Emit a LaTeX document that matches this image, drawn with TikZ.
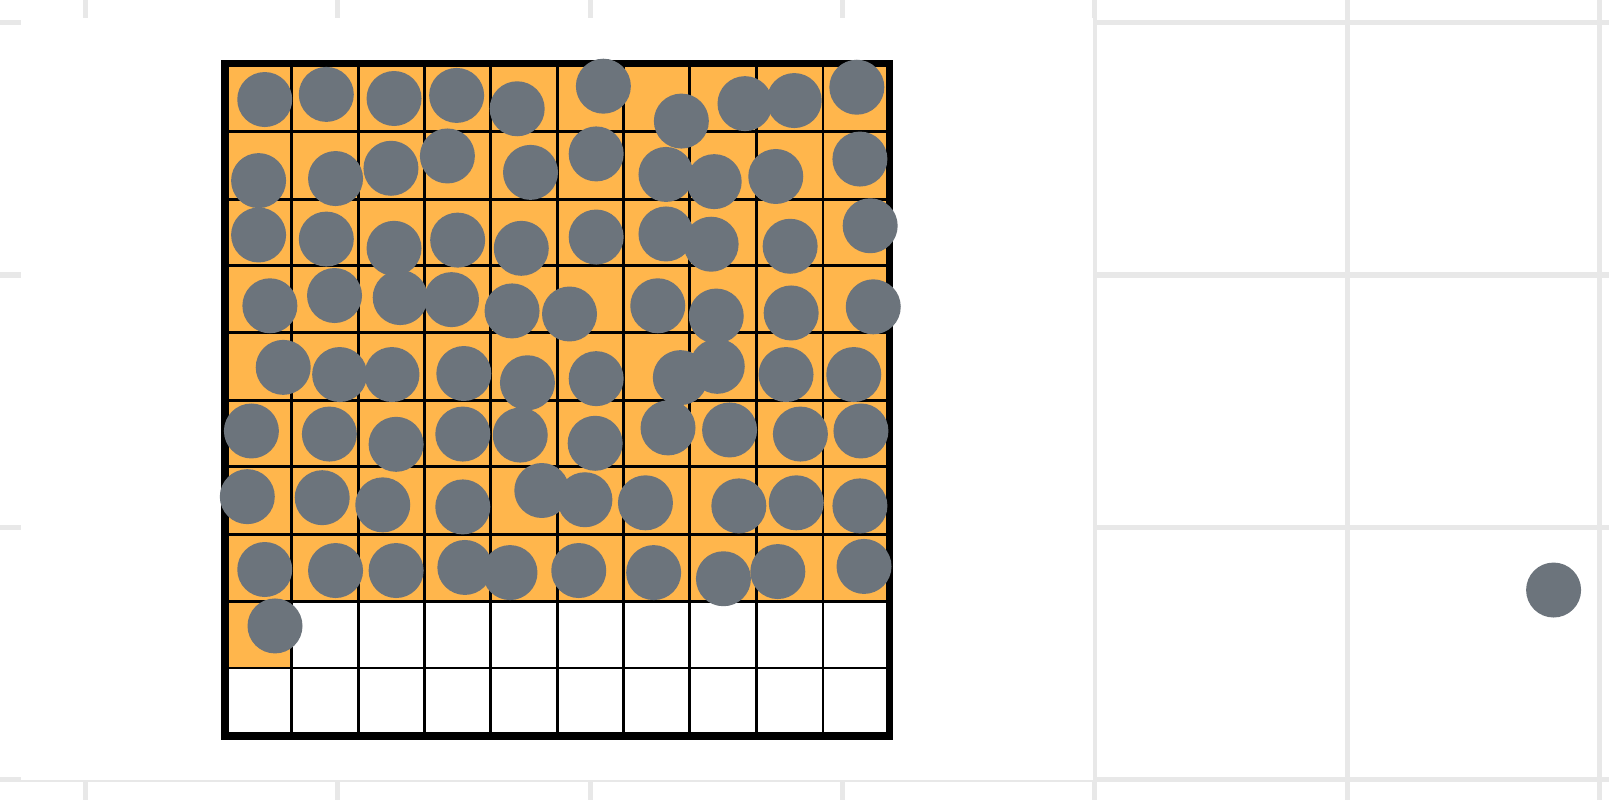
\documentclass[tikz,border=0pt]{standalone}
\usepackage{xcolor}
\usepackage{tikz}
\definecolor{ballgray}{RGB}{108, 116, 124}
\definecolor{cellorange}{RGB}{255, 182, 76}
\definecolor{backgray}{RGB}{232, 232, 232}
\tikzset{
  ball/.style={fill=ballgray},
  backline/.style={draw=backgray, line width=2.8pt},
  cellline/.style={draw=black, line width=1.6pt},
  frameline/.style={draw=black, line width=4.2pt}
}

\begin{document}
\begin{tikzpicture}[x=0.02cm, y=-0.02cm]
    \useasboundingbox (0,0) rectangle (1568,780);

    % Background grid
    \draw[backline] (83,0) -- (83,780);
    \draw[backline] (329,0) -- (329,780);
    \draw[backline] (575,0) -- (575,780);
    \draw[backline] (821,0) -- (821,780);
    \draw[backline] (1067,0) -- (1067,780);
    \draw[backline] (1313,0) -- (1313,780);
    \draw[backline] (1559,0) -- (1559,780);
    \draw[backline] (0,22) -- (1568,22);
    \draw[backline] (0,268) -- (1568,268);
    \draw[backline] (0,514) -- (1568,514);
    \draw[backline] (0,760) -- (1568,760);

    % White panel
    \fill[white] (20,18) rectangle (1065,760);

    % Filled cells
    \fill[cellorange] (219,62) rectangle (867,586);
    \fill[cellorange] (219,586) rectangle (284,651);

    % Cell lines
    \draw[cellline] (284,62) -- (284,717);
    \draw[cellline] (349,62) -- (349,717);
    \draw[cellline] (414,62) -- (414,717);
    \draw[cellline] (478,62) -- (478,717);
    \draw[cellline] (543,62) -- (543,717);
    \draw[cellline] (608,62) -- (608,717);
    \draw[cellline] (672,62) -- (672,717);
    \draw[cellline] (737,62) -- (737,717);
    \draw[cellline] (802,62) -- (802,717);
    \draw[cellline] (219,128) -- (867,128);
    \draw[cellline] (219,194) -- (867,194);
    \draw[cellline] (219,259) -- (867,259);
    \draw[cellline] (219,324) -- (867,324);
    \draw[cellline] (219,390) -- (867,390);
    \draw[cellline] (219,455) -- (867,455);
    \draw[cellline] (219,521) -- (867,521);
    \draw[cellline] (219,586) -- (867,586);
    \draw[cellline] (219,651) -- (867,651);
    \draw[frameline] (219,62) rectangle (867,717);

    % Balls, row 1
    \fill[ball] (258,97) circle (0.536cm);
    \fill[ball] (318,92) circle (0.536cm);
    \fill[ball] (384,96) circle (0.536cm);
    \fill[ball] (445,93) circle (0.536cm);
    \fill[ball] (504,106) circle (0.536cm);
    \fill[ball] (588,84) circle (0.536cm);
    \fill[ball] (664,118) circle (0.536cm);
    \fill[ball] (726,101) circle (0.536cm);
    \fill[ball] (774,98) circle (0.536cm);
    \fill[ball] (835,85) circle (0.536cm);

    % Balls, row 2
    \fill[ball] (252,176) circle (0.536cm);
    \fill[ball] (327,174) circle (0.536cm);
    \fill[ball] (381,164) circle (0.536cm);
    \fill[ball] (436,152) circle (0.536cm);
    \fill[ball] (517,168) circle (0.536cm);
    \fill[ball] (581,150) circle (0.536cm);
    \fill[ball] (649,170) circle (0.536cm);
    \fill[ball] (696,177) circle (0.536cm);
    \fill[ball] (756,172) circle (0.536cm);
    \fill[ball] (838,155) circle (0.536cm);

    % Balls, row 3
    \fill[ball] (252,229) circle (0.536cm);
    \fill[ball] (318,233) circle (0.536cm);
    \fill[ball] (384,242) circle (0.536cm);
    \fill[ball] (446,234) circle (0.536cm);
    \fill[ball] (508,242) circle (0.536cm);
    \fill[ball] (581,231) circle (0.536cm);
    \fill[ball] (649,228) circle (0.536cm);
    \fill[ball] (693,238) circle (0.536cm);
    \fill[ball] (770,240) circle (0.536cm);
    \fill[ball] (848,220) circle (0.536cm);

    % Balls, row 4
    \fill[ball] (263,298) circle (0.536cm);
    \fill[ball] (326,288) circle (0.536cm);
    \fill[ball] (390,290) circle (0.536cm);
    \fill[ball] (440,292) circle (0.536cm);
    \fill[ball] (499,303) circle (0.536cm);
    \fill[ball] (555,306) circle (0.536cm);
    \fill[ball] (641,298) circle (0.536cm);
    \fill[ball] (698,308) circle (0.536cm);
    \fill[ball] (771,305) circle (0.536cm);
    \fill[ball] (851,299) circle (0.536cm);

    % Balls, row 5
    \fill[ball] (276,358) circle (0.536cm);
    \fill[ball] (331,365) circle (0.536cm);
    \fill[ball] (382,365) circle (0.536cm);
    \fill[ball] (452,364) circle (0.536cm);
    \fill[ball] (514,373) circle (0.536cm);
    \fill[ball] (581,369) circle (0.536cm);
    \fill[ball] (663,368) circle (0.536cm);
    \fill[ball] (699,357) circle (0.536cm);
    \fill[ball] (766,365) circle (0.536cm);
    \fill[ball] (832,365) circle (0.536cm);

    % Balls, row 6
    \fill[ball] (245,420) circle (0.536cm);
    \fill[ball] (321,423) circle (0.536cm);
    \fill[ball] (386,433) circle (0.536cm);
    \fill[ball] (451,423) circle (0.536cm);
    \fill[ball] (507,424) circle (0.536cm);
    \fill[ball] (580,432) circle (0.536cm);
    \fill[ball] (651,417) circle (0.536cm);
    \fill[ball] (711,419) circle (0.536cm);
    \fill[ball] (780,423) circle (0.536cm);
    \fill[ball] (839,420) circle (0.536cm);

    % Balls, row 7
    \fill[ball] (241,484) circle (0.536cm);
    \fill[ball] (314,485) circle (0.536cm);
    \fill[ball] (373,492) circle (0.536cm);
    \fill[ball] (451,494) circle (0.536cm);
    \fill[ball] (528,478) circle (0.536cm);
    \fill[ball] (570,487) circle (0.536cm);
    \fill[ball] (629,490) circle (0.536cm);
    \fill[ball] (720,493) circle (0.536cm);
    \fill[ball] (776,490) circle (0.536cm);
    \fill[ball] (838,493) circle (0.536cm);

    % Balls, row 8
    \fill[ball] (258,555) circle (0.536cm);
    \fill[ball] (327,556) circle (0.536cm);
    \fill[ball] (386,556) circle (0.536cm);
    \fill[ball] (453,553) circle (0.536cm);
    \fill[ball] (497,558) circle (0.536cm);
    \fill[ball] (564,556) circle (0.536cm);
    \fill[ball] (637,558) circle (0.536cm);
    \fill[ball] (705,564) circle (0.536cm);
    \fill[ball] (758,557) circle (0.536cm);
    \fill[ball] (842,552) circle (0.536cm);

    % Balls, row 9 and the stray one
    \fill[ball] (268,610) circle (0.536cm);
    \fill[ball] (1514,575) circle (0.536cm);
  \end{tikzpicture}
\end{document}
